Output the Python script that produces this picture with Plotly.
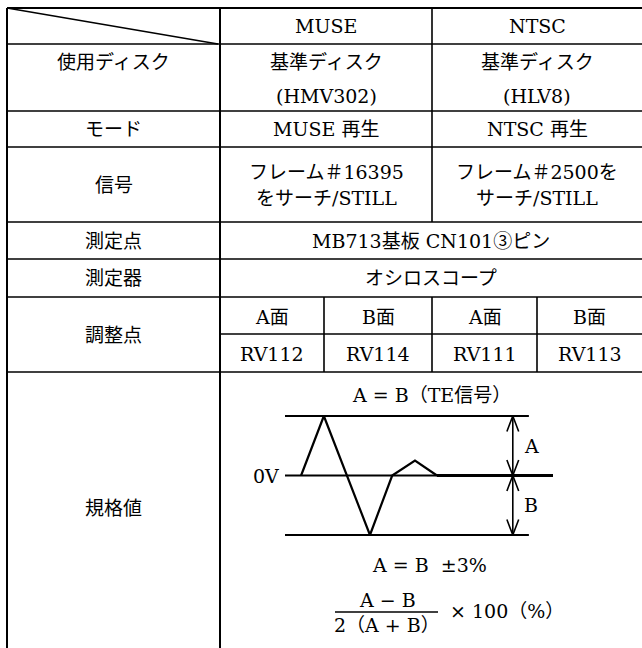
import plotly.graph_objects as go

W, H = 642, 648
FONT = "DejaVu Serif, Noto Sans CJK JP, serif"
FS = 19

# ---- table structure (layout grid, pixels) ----
col_x = [7, 220, 324, 432, 537, 642]
row_y = [8, 44, 111, 147, 222, 259, 297, 334, 372, 648]

# ---- table texts ----
header_cols = ["MUSE", "NTSC"]
row_labels = ["使用ディスク", "モード", "信号", "測定点", "測定器", "調整点", "規格値"]
disc_line1 = ["基準ディスク", "基準ディスク"]
disc_line2 = ["(HMV302)", "(HLV8)"]
mode_texts = ["MUSE 再生", "NTSC 再生"]
signal_line1 = ["フレーム＃16395", "フレーム＃2500を"]
signal_line2 = ["をサーチ/STILL", "サーチ/STILL"]
point_text = "MB713基板 CN101③ピン"
instrument_text = "オシロスコープ"
sides = ["A面", "B面", "A面", "B面"]
adjust_points = ["RV112", "RV114", "RV111", "RV113"]
spec_title = "A = B（TE信号）"
spec_tol = "A = B  ±3%"
frac_num = "A − B"
frac_den = "2（A + B）"
frac_mult = "× 100（%）"

# ---- TE signal diagram (time units, amplitude units) ----
wave_t = [6, 14.5, 31.7, 40, 48.5, 56.7]
wave_v = [0, 1, -1, 0, 0.25, 0]
ref_len = 91          # length of +1 / -1 reference lines
zero_len = 100        # length of 0V line
arrow_t = 85          # position of A/B measuring arrow
level_labels = ["A", "B"]
level_v = [0.5, -0.5]

fig = go.Figure()

shapes = []
def hline(y, x0, x1, w=1.6):
    shapes.append(dict(type="line", xref="x", yref="y", x0=x0, x1=x1, y0=y, y1=y,
                       line=dict(color="black", width=w)))
def vline(x, y0, y1, w=1.6):
    shapes.append(dict(type="line", xref="x", yref="y", x0=x, x1=x, y0=y0, y1=y1,
                       line=dict(color="black", width=w)))

for i, y in enumerate(row_y[:-1]):
    if y == row_y[7]:
        hline(y, col_x[1], col_x[-1])
    else:
        hline(y, col_x[0], col_x[-1], 2 if i == 0 else 1.6)
vline(col_x[0], row_y[0], row_y[-1], 2)
vline(col_x[1], row_y[0], row_y[-1], 2)
vline(col_x[3], row_y[0], row_y[4])
vline(col_x[3], row_y[6], row_y[8])
vline(col_x[2], row_y[6], row_y[8])
vline(col_x[4], row_y[6], row_y[8])
# diagonal in corner cell
shapes.append(dict(type="line", xref="x", yref="y", x0=col_x[0], y0=row_y[0],
                   x1=col_x[1] - 2, y1=row_y[1], line=dict(color="black", width=1.4)))

ann = []
def txt(s, x, y, size=FS, xanchor="center", xref="x", yref="y"):
    ann.append(dict(text=s, x=x, y=y, xref=xref, yref=yref, showarrow=False,
                    xanchor=xanchor, yanchor="middle",
                    font=dict(family=FONT, size=size, color="black")))

c_label = (col_x[0] + col_x[1]) / 2
c_muse = (col_x[1] + col_x[3]) / 2
c_ntsc = (col_x[3] + col_x[5]) / 2
c_both = (col_x[1] + col_x[5]) / 2
cols2 = [c_muse, c_ntsc]

for s, cx in zip(header_cols, cols2):
    txt(s, cx, 26)
# 使用ディスク
txt(row_labels[0], c_label, 62)
for a, b, cx in zip(disc_line1, disc_line2, cols2):
    txt(a, cx, 62)
    txt(b, cx, 96)
# モード
txt(row_labels[1], c_label, 129)
for s, cx in zip(mode_texts, cols2):
    txt(s, cx, 129)
# 信号
txt(row_labels[2], c_label, 185)
for a, b, cx in zip(signal_line1, signal_line2, cols2):
    txt(a, cx, 172)
    txt(b, cx, 198)
# 測定点 / 測定器
txt(row_labels[3], c_label, (row_y[4] + row_y[5]) / 2)
txt(point_text, c_both, (row_y[4] + row_y[5]) / 2)
txt(row_labels[4], c_label, (row_y[5] + row_y[6]) / 2)
txt(instrument_text, c_both, (row_y[5] + row_y[6]) / 2)
# 調整点
txt(row_labels[5], c_label, (row_y[6] + row_y[8]) / 2)
for i in range(4):
    cx = (col_x[1 + i] + col_x[2 + i]) / 2
    txt(sides[i], cx, (row_y[6] + row_y[7]) / 2 + 1)
    txt(adjust_points[i], cx, (row_y[7] + row_y[8]) / 2 + 1)
# 規格値
txt(row_labels[6], c_label, 508)
txt(spec_title, c_both, 395)
txt(spec_tol, c_both - 2, 565)
txt(frac_num, 387, 600)
txt(frac_den, 387, 625)
txt(frac_mult, 448, 611, xanchor="left")
hline(612, 335, 438, 1.5)

# ---- diagram axes placement ----
px_t0, px_t1 = 285, 553      # pixel x of t=0 and t=100
px_vp, px_vm = 416, 535      # pixel y of v=+1 and v=-1
sx = (px_t1 - px_t0) / 100.0
sy = (px_vm - px_vp) / 2.0
tpad, vpad = 6, 0.2
xdom = [(px_t0 - tpad * sx) / W, (px_t1 + tpad * sx) / W]
ydom = [1 - (px_vm + vpad * sy) / H, 1 - (px_vp - vpad * sy) / H]

line_kw = dict(mode="lines", xaxis="x2", yaxis="y2", hoverinfo="skip", showlegend=False)
fig.add_trace(go.Scatter(x=[0, ref_len], y=[1, 1], line=dict(color="black", width=2.2), **line_kw))
fig.add_trace(go.Scatter(x=[0, ref_len], y=[-1, -1], line=dict(color="black", width=2.2), **line_kw))
fig.add_trace(go.Scatter(x=[0, zero_len], y=[0, 0], line=dict(color="black", width=2), **line_kw))
fig.add_trace(go.Scatter(x=[wave_t[-1], zero_len], y=[0, 0], line=dict(color="black", width=3.2), **line_kw))
fig.add_trace(go.Scatter(x=wave_t, y=wave_v, line=dict(color="black", width=2.2), **line_kw))
# measuring arrow with open heads
fig.add_trace(go.Scatter(x=[arrow_t, arrow_t], y=[1, -1], line=dict(color="black", width=1.6), **line_kw))
hw, hh = 2.2, 0.26
heads_x, heads_y = [], []
for tip, d in [(1, -1), (0, 1), (0, -1), (-1, 1)]:
    heads_x += [arrow_t - hw, arrow_t, arrow_t + hw, None]
    heads_y += [tip + d * hh, tip, tip + d * hh, None]
fig.add_trace(go.Scatter(x=heads_x, y=heads_y, line=dict(color="black", width=1.6), **line_kw))

txt("0V", -1.5, 0, xanchor="right", xref="x2", yref="y2")
for s, v in zip(level_labels, level_v):
    txt(s, arrow_t + 3.5, v, xanchor="left", xref="x2", yref="y2")

fig.update_layout(
    width=W, height=H, margin=dict(l=0, r=0, t=0, b=0),
    paper_bgcolor="white", plot_bgcolor="rgba(0,0,0,0)",
    xaxis=dict(range=[0, W], domain=[0, 1], visible=False, fixedrange=True),
    yaxis=dict(range=[H, 0], domain=[0, 1], visible=False, fixedrange=True),
    xaxis2=dict(range=[-tpad, 100 + tpad], domain=xdom, anchor="y2", visible=False, fixedrange=True),
    yaxis2=dict(range=[-1 - vpad, 1 + vpad], domain=ydom, anchor="x2", visible=False, fixedrange=True),
    shapes=shapes, annotations=ann,
)

fig.write_html("out.html", config={"displayModeBar": False},
               post_script="document.body.style.margin='0';document.body.style.overflow='hidden';")
